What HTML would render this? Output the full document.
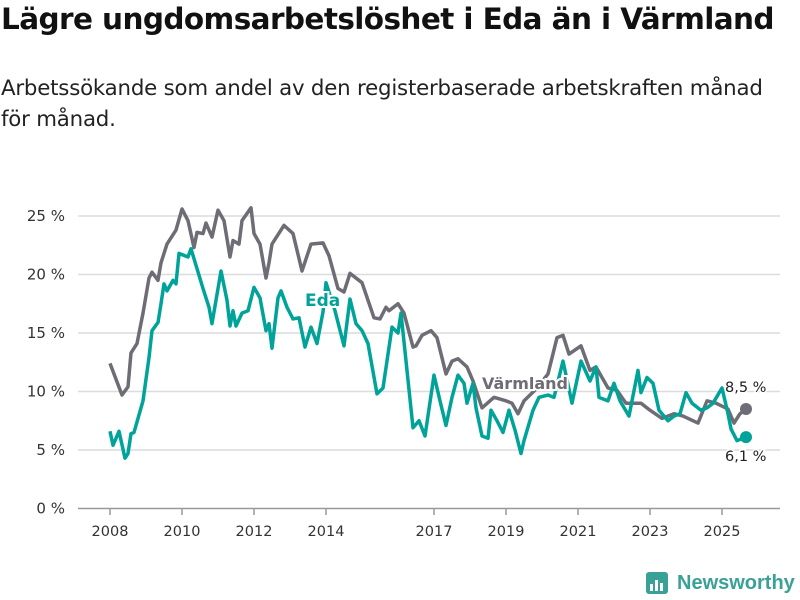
<!DOCTYPE html>
<html><head><meta charset="utf-8">
<style>
body{margin:0;width:800px;height:600px;background:#fff;font-family:"DejaVu Sans","Liberation Sans",sans-serif;overflow:hidden;position:relative}
#title{position:absolute;left:1px;top:2px;font-size:29.5px;font-weight:bold;color:#111;letter-spacing:-0.6px;white-space:nowrap}
#sub{position:absolute;left:1px;top:73px;font-size:21.3px;line-height:31px;color:#222;white-space:nowrap;letter-spacing:-0.2px}
svg{position:absolute;left:0;top:0}
</style></head><body>
<div id="title">Lägre ungdomsarbetslöshet i Eda än i Värmland</div>
<div id="sub">Arbetssökande som andel av den registerbaserade arbetskraften månad<br>för månad.</div>
<svg id="chart" width="800" height="600" font-family="DejaVu Sans, Liberation Sans, sans-serif"></svg>
<script>
const yTicks=[0,5,10,15,20,25];
const xTickYears=[2008,2010,2012,2014,2017,2019,2021,2023,2025];
// months since Jan 2008
const varmMonths=[0,4,6,7,9,11,13,14,16,17,19,22,24,26,28,29,31,32,34,36,38,40,41,43,44,47,48,50,52,53,54,58,61,64,67,71,73,76,78,80,84,88,90,92,93,96,98,101,102,104,107,109,112,114,116,119,121,124,128,132,134,136,138,142,146,149,151,153,157,160,162,166,169,172,177,180,184,188,191,196,199,202,206,208,210,212];
const varmValues=[12.4,9.7,10.4,13.3,14.1,16.7,19.7,20.2,19.5,21,22.6,23.8,25.6,24.6,22.3,23.6,23.5,24.4,23.2,25.5,24.6,21.5,22.9,22.6,24.6,25.7,23.5,22.6,19.7,21,22.6,24.2,23.5,20.3,22.6,22.7,21.6,18.8,18.5,20.1,19.3,16.3,16.2,17.2,16.9,17.5,16.7,13.8,13.9,14.8,15.2,14.6,11.5,12.6,12.8,12.1,10.9,8.6,9.5,9.2,9.0,8.1,9.2,10.2,11.5,14.6,14.8,13.2,13.9,11.8,12.1,10.3,10.1,9.0,9.0,8.4,7.7,8.1,7.9,7.3,9.2,9.0,8.5,7.3,8.1,8.5];
const edaMonths=[0,1,3,5,6,7,8,11,13,14,16,17,18,19,21,22,23,26,27,29,31,33,34,37,39,40,41,42,44,46,48,50,52,53,54,56,57,59,61,63,65,67,69,71,72,75,78,80,82,84,86,89,91,94,96,97,101,103,105,108,110,112,114,116,118,119,121,122,124,126,127,129,131,133,135,137,138,141,143,146,148,151,154,157,160,162,163,166,168,170,173,176,177,179,181,183,186,188,190,192,194,197,199,201,204,206,207,209,212];
const edaValues=[6.6,5.4,6.6,4.3,4.7,6.4,6.5,9.2,12.9,15.2,15.9,17.5,19.2,18.6,19.5,19.2,21.8,21.5,22.2,20.5,18.8,17.2,15.8,20.3,17.8,15.6,16.9,15.6,16.7,16.9,18.9,18,15.2,15.8,13.7,18,18.6,17.2,16.2,16.3,13.8,15.5,14.1,16.8,19.3,16.9,13.9,17.9,15.8,15.2,14.1,9.8,10.3,15.5,15,16.7,6.9,7.5,6.2,11.4,9.2,7.1,9.5,11.4,10.7,9.0,10.7,8.6,6.2,6.0,8.4,7.5,6.5,8.4,6.7,4.7,5.8,8.4,9.5,9.7,9.5,12.6,9.0,12.6,10.9,12.1,9.5,9.2,10.7,9.2,7.9,11.8,9.9,11.2,10.7,8.4,7.5,7.9,8.1,9.9,9.0,8.4,8.6,9.0,10.3,8.1,6.8,5.8,6.1];
const NS='http://www.w3.org/2000/svg';
const svg=document.getElementById('chart');
const x=m=>110+m*3;
const xYear=y=>x((y-2008)*12);
const y=v=>508.5-v*11.7;
function mk(t,a){const e=document.createElementNS(NS,t);for(const k in a)e.setAttribute(k,a[k]);svg.appendChild(e);return e;}
yTicks.forEach(t=>{
  const l=mk('line',{x1:78,x2:780,y1:y(t),y2:y(t),stroke:t===0?'#999':'#dcdcdc','stroke-width':1.5});
  
  
  const tx=mk('text',{x:65,y:y(t)+5,'text-anchor':'end','font-size':15,fill:'#333'});
  tx.textContent=t+' %';
  
  
});
xTickYears.forEach(yr=>{
  const l=mk('line',{x1:xYear(yr),x2:xYear(yr),y1:509,y2:515,stroke:'#999','stroke-width':1.5});
  
  
  const tx=mk('text',{x:xYear(yr),y:536,'text-anchor':'middle','font-size':14.5,fill:'#333'});
  tx.textContent=yr;
  
  
});
function line(ms,vs,col,name){
  const p=mk('polyline',{points:ms.map((m,i)=>x(m)+','+y(vs[i])).join(' '),fill:'none',stroke:col,'stroke-width':3.5,'stroke-linejoin':'round'});
  
  
  const n=ms.length-1;
  const c=mk('circle',{cx:x(ms[n]),cy:y(vs[n]),r:6,fill:col});
  
  
}
line(varmMonths,varmValues,'#6e6c74','varmland-line');
line(edaMonths,edaValues,'#00a399','eda-line');
function lab(t,xx,yy,col,name,bold,size){
  const e=mk('text',{x:xx,y:yy,'font-size':size,'font-weight':bold?'bold':'normal',fill:col,stroke:'#fff','stroke-width':bold?4:3,'paint-order':'stroke'});
  e.textContent=t;
  
  
}
lab('Eda',305,306,'#00a399','eda-label',true,17);
lab('Värmland',482,389,'#6e6c74','varmland-label',true,16);
lab('8,5 %',725,392,'#222','varmland-last-value',false,14.5);
lab('6,1 %',725,461,'#222','eda-last-value',false,14.5);
// logo
const g=mk('g',{});


const r=mk('rect',{x:646,y:572,width:22,height:22,rx:3,fill:'#3aa197'});


[[650,584,3,7],[655,580,3,11],[660,583,3,8]].forEach(b=>{const q=mk('rect',{x:b[0],y:b[1],width:b[2],height:b[3],fill:'#fff'});});
const lt=mk('text',{x:677,y:589,'font-size':20,'font-weight':'bold',fill:'#3aa197','font-family':'Liberation Sans, sans-serif'});
lt.textContent='Newsworthy';


</script>
</body></html>
